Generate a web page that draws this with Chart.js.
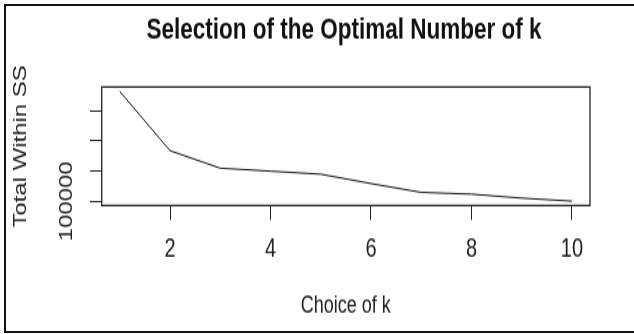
<!DOCTYPE html>
<html>
<head>
<meta charset="utf-8">
<script src="https://cdn.jsdelivr.net/npm/chart.js@4"></script>
<style>
  html, body { margin: 0; padding: 0; background: #fff; }
  #wrap { position: relative; width: 634px; height: 334px; overflow: hidden; }
  /* the source image is stretched vertically, so draw short and scale up */
  #plot { position: absolute; left: 0; top: 0; transform-origin: 0 0; transform: scale(1, 1.3307); }
  #frame { position: absolute; left: 4px; top: 4px; width: 640px; height: 329px; box-sizing: border-box; border: 2px solid #111; border-right: none; pointer-events: none; }
</style>
</head>
<body>
<div id="wrap">
  <canvas id="plot" width="634" height="251"></canvas>
  <div id="frame"></div>
</div>
<script>
// data
const kValues = [1, 2, 3, 4, 5, 6, 7, 8, 9, 10];
const withinSS = [282000, 184000, 155000, 150000, 145000, 129500, 115000, 112000, 105500, 100500];
const xTicks = [2, 4, 6, 8, 10];
const yTicks = [100000, 150000, 200000, 250000];
const yTickLabels = ['100000', '', '', ''];

// R style axis range: data range plus 4% each side
function rRange(vals) {
    const lo = Math.min(...vals), hi = Math.max(...vals);
    const ext = (hi - lo) * 0.04;
    return [lo - ext, hi + ext];
}
const [xMin, xMax] = rRange(kValues);
const [yMin, yMax] = rRange(withinSS);

const FONT = "'Liberation Sans', Arial, sans-serif";
Chart.defaults.font.family = FONT;
Chart.defaults.color = '#222';

// box round the plot region
const plotBox = {
    id: 'plotBox',
    afterDraw(chart) {
        const { ctx, chartArea: a } = chart;
        ctx.save();
        ctx.strokeStyle = '#222';
        ctx.lineWidth = 1.3;
        ctx.strokeRect(a.left, a.top, a.right - a.left, a.bottom - a.top);
        ctx.restore();
    }
};

const LEFT_PAD = 54; // keeps the title centred over the plot region, like R

const ctx = document.getElementById('plot').getContext('2d');
new Chart(ctx, {
    type: 'line',
    data: {
        datasets: [{
            data: kValues.map((k, i) => ({ x: k, y: withinSS[i] })),
            borderColor: '#111',
            borderWidth: 1,
            pointRadius: 0,
            tension: 0,
            fill: false
        }]
    },
    options: {
        responsive: false,
        animation: false,
        layout: { padding: { left: LEFT_PAD, right: 0, top: 0, bottom: 0 } },
        plugins: {
            legend: { display: false },
            tooltip: { enabled: false },
            title: {
                display: true,
                text: 'Selection of the Optimal Number of k',
                color: '#111',
                font: { size: 22.5, weight: 'bold' },
                padding: { top: 9.4, bottom: 29 }
            }
        },
        scales: {
            x: {
                type: 'linear',
                min: xMin,
                max: xMax,
                afterBuildTicks: s => { s.ticks = xTicks.map(v => ({ value: v })); },
                afterFit: s => { s.height = 96.6; },
                grid: { drawOnChartArea: false, drawTicks: true, tickLength: 10.9, color: '#222' },
                border: { display: false },
                ticks: { font: { size: 20 }, padding: 10, maxRotation: 0, color: '#222' },
                title: { display: true, text: 'Choice of k', font: { size: 18 }, color: '#222', padding: { top: 0, bottom: 10.4 } }
            },
            y: {
                type: 'linear',
                min: yMin,
                max: yMax,
                afterBuildTicks: s => { s.ticks = yTicks.map(v => ({ value: v })); },
                afterFit: s => { s.width = 101.7 - LEFT_PAD; },
                grid: { drawOnChartArea: false, drawTicks: true, tickLength: 11.7, color: '#222' },
                border: { display: false },
                ticks: {
                    font: { size: 18 },
                    color: '#222',
                    minRotation: 90,
                    maxRotation: 90,
                    autoSkip: false,
                    crossAlign: 'center',
                    padding: -6.7,
                    callback: v => yTickLabels[yTicks.indexOf(v)] ?? ''
                },
                title: { display: true, text: 'Total Within SS', font: { size: 18 }, color: '#222', padding: { top: 10.2 - LEFT_PAD, bottom: 0 } }
            },
            // empty right margin
            yRight: {
                position: 'right',
                display: true,
                afterFit: s => { s.width = 44; },
                grid: { display: false },
                border: { display: false },
                ticks: { display: false }
            }
        }
    },
    plugins: [plotBox]
});
</script>
</body>
</html>
